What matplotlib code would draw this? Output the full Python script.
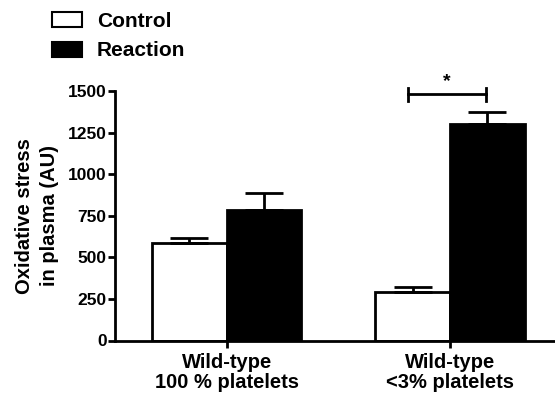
import numpy as np
import matplotlib
matplotlib.use("Agg")
import matplotlib.pyplot as plt
from matplotlib.patches import Patch

plt.rcParams['font.family'] = ['Liberation Sans', 'DejaVu Sans']
plt.rcParams['font.weight'] = 'bold'

# data
groups = ['Wild-type\n100 % platelets', 'Wild-type\n<3% platelets']
series = ['Control', 'Reaction']
control_mean = [587, 291]
control_sem = [27, 30]
reaction_mean = [784, 1300]
reaction_sem = [104, 72]
yticks = [0, 250, 500, 750, 1000, 1250, 1500]

fig = plt.figure(figsize=(5.55, 3.96), dpi=100)
ax = fig.add_axes([115 / 555, 1 - 340.5 / 396, 440 / 555, 249.5 / 396])

x = np.arange(len(groups))
w = 0.335
lw = 2.0

ax.bar(x - w / 2, control_mean, w, color='white', edgecolor='black', linewidth=lw,
       yerr=[np.zeros(len(groups)), control_sem],
       error_kw=dict(ecolor='black', elinewidth=lw, capsize=13.5, capthick=lw), zorder=2)
ax.bar(x + w / 2, reaction_mean, w, color='black', edgecolor='black', linewidth=lw,
       yerr=[np.zeros(len(groups)), reaction_sem],
       error_kw=dict(ecolor='black', elinewidth=lw, capsize=13.5, capthick=lw), zorder=2)

# significance bracket between the two bars of group 2
x1 = x[1] - w / 2 - 0.02
x2 = x[1] + w / 2 - 0.005
yb = 1480
ax.plot([x1, x2], [yb, yb], color='black', lw=lw, clip_on=False)
ax.plot([x1, x1], [yb - 40, yb + 40], color='black', lw=lw, clip_on=False)
ax.plot([x2, x2], [yb - 40, yb + 40], color='black', lw=lw, clip_on=False)
ax.text((x1 + x2) / 2, yb + 25, '*', ha='center', va='bottom', fontsize=14,
        fontweight='bold', clip_on=False)

ax.set_xlim(-0.5, 1.47)
ax.set_ylim(0, 1500)
ax.set_yticks(yticks)
ax.set_xticks(x)
ax.set_xticklabels(groups, fontsize=14.5, fontweight='bold', linespacing=1.1)
ax.tick_params(axis='y', labelsize=12.5, width=lw, length=5, pad=1)
ax.tick_params(axis='x', width=lw, length=5, pad=4)
for lab in ax.get_yticklabels():
    lab.set_fontweight('bold')

ax.spines['top'].set_visible(False)
ax.spines['right'].set_visible(False)
ax.spines['left'].set_linewidth(lw)
ax.spines['bottom'].set_linewidth(lw)

ax.set_ylabel('Oxidative stress\nin plasma (AU)', fontsize=14.5, fontweight='bold',
              linespacing=1.4)
ax.yaxis.set_label_coords(-0.128, 0.5)

handles = [Patch(facecolor='white', edgecolor='black', linewidth=1.5, label=series[0]),
           Patch(facecolor='black', edgecolor='black', linewidth=1.5, label=series[1])]
fig.legend(handles=handles, loc='upper left', bbox_to_anchor=(52 / 555, 1 - 12 / 396),
           frameon=False, fontsize=15, handlelength=1.45, handleheight=0.75,
           handletextpad=0.7, labelspacing=0.5, borderpad=0, borderaxespad=0)

fig.savefig('out.png', dpi=100)
